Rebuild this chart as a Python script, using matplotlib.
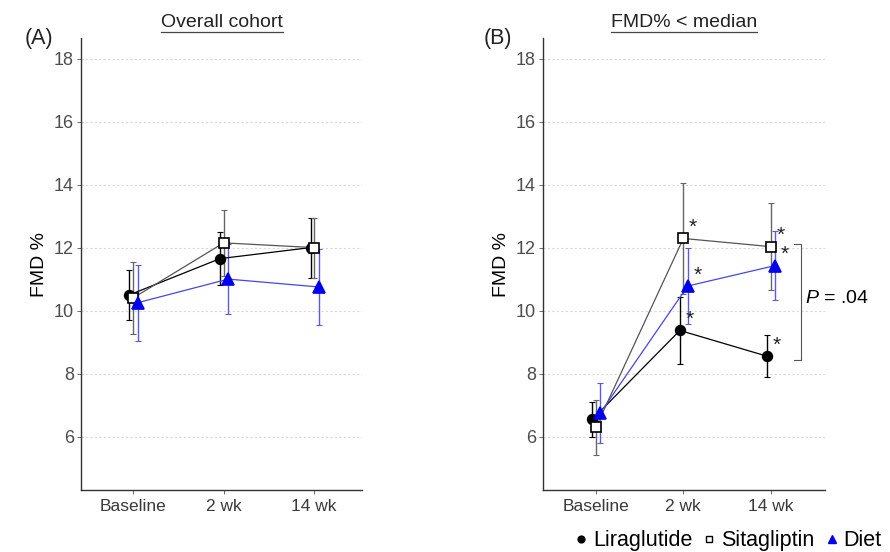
import matplotlib
matplotlib.use("Agg")
import matplotlib.pyplot as plt
from matplotlib.lines import Line2D
import numpy as np

plt.rcParams['font.family'] = ['Liberation Sans', 'DejaVu Sans']
plt.rcParams['mathtext.fontset'] = 'custom'
plt.rcParams['mathtext.it'] = 'Liberation Sans:italic'
plt.rcParams['mathtext.rm'] = 'Liberation Sans'

timepoints = ["Baseline", "2 wk", "14 wk"]
groups = ["Liraglutide", "Sitagliptin", "Diet"]

# Panel A: overall cohort
a_lira_mean = [10.5, 11.65, 12.0]
a_lira_err = [0.8, 0.85, 0.95]
a_sita_mean = [10.4, 12.15, 12.0]
a_sita_err = [1.15, 1.05, 0.95]
a_diet_mean = [10.25, 11.0, 10.75]
a_diet_err = [1.2, 1.1, 1.2]

# Panel B: FMD% < median
b_lira_mean = [6.55, 9.37, 8.55]
b_lira_err = [0.55, 1.05, 0.66]
b_sita_mean = [6.3, 12.29, 12.03]
b_sita_err = [0.87, 1.77, 1.37]
b_diet_mean = [6.75, 10.78, 11.43]
b_diet_err = [0.95, 1.22, 1.1]

p_text = "= .04"

styles = {
    "Liraglutide": dict(marker='o', mfc='black', mec='black', ms=7, line='black', err='black', dx=-0.04),
    "Sitagliptin": dict(marker='s', mfc='white', mec='black', ms=6.5, line='#555555', err='#666666', dx=0.0),
    "Diet": dict(marker='^', mfc='#0000ee', mec='#0000ee', ms=8.5, line='#4646e6', err='#5a5ae6', dx=0.05),
}

fig = plt.figure(figsize=(8.9, 5.52), dpi=100)
axA = fig.add_axes([0.091, 0.112, 0.316, 0.819])
axB = fig.add_axes([0.610, 0.112, 0.317, 0.819])

x = np.arange(1, len(timepoints) + 1)

def draw(ax, data, xlim):
    for g, (m, e) in data.items():
        s = styles[g]
        xx = x + s['dx']
        ax.errorbar(xx, m, yerr=e, fmt='none', ecolor=s['err'], elinewidth=1.0, capsize=2, capthick=0.8, zorder=2)
        ax.plot(xx, m, color=s['line'], lw=0.9, zorder=3)
        ax.plot(xx, m, linestyle='none', marker=s['marker'], mfc=s['mfc'], mec=s['mec'], ms=s['ms'], mew=1.2, zorder=4)
    ax.set_xlim(*xlim)
    ax.set_ylim(4.3, 18.65)
    ax.set_yticks([6, 8, 10, 12, 14, 16, 18])
    ax.set_xticks(x)
    ax.set_xticklabels(timepoints)
    ax.yaxis.grid(True, linestyle=(0, (2, 2)), color='#d9d9d9', lw=0.8)
    ax.set_axisbelow(True)
    for sp in ['top', 'right']:
        ax.spines[sp].set_visible(False)
    for sp in ['left', 'bottom']:
        ax.spines[sp].set_color('#333333')
        ax.spines[sp].set_linewidth(1.0)
    ax.tick_params(axis='y', labelsize=13, colors='#555555', labelcolor='#4d4d4d', length=3, width=0.6, pad=2)
    ax.tick_params(axis='x', labelsize=12.5, colors='#555555', labelcolor='#3a3a3a', length=3, width=0.6, pad=3)
    ax.set_ylabel("FMD %", fontsize=14, labelpad=4)

draw(axA, {"Liraglutide": (a_lira_mean, a_lira_err),
           "Sitagliptin": (a_sita_mean, a_sita_err),
           "Diet": (a_diet_mean, a_diet_err)}, (0.425, 3.53))
draw(axB, {"Liraglutide": (b_lira_mean, b_lira_err),
           "Sitagliptin": (b_sita_mean, b_sita_err),
           "Diet": (b_diet_mean, b_diet_err)}, (0.394, 3.62))

# asterisks in panel B at 2 wk and 14 wk
for g, m in [("Liraglutide", b_lira_mean), ("Sitagliptin", b_sita_mean), ("Diet", b_diet_mean)]:
    s = styles[g]
    for i in [1, 2]:
        axB.annotate("*", (x[i] + s['dx'], m[i]), xytext=(4, 1), textcoords='offset points',
                     ha='left', va='bottom', fontsize=15, color='#222222')

# bracket and P value
bx0, bx1 = 3.27, 3.35
ytop, ybot = 12.1, 8.44
axB.plot([bx0, bx1, bx1, bx0], [ytop, ytop, ybot, ybot], color='#555555', lw=0.8, clip_on=False)
axB.text(bx1 + 0.04, (ytop + ybot) / 2 + 0.1, r"$\it{P}$ " + p_text, fontsize=14, ha='left', va='center')

# titles with underline
fig.canvas.draw()
renderer = fig.canvas.get_renderer()
for ax, title in [(axA, "Overall cohort"), (axB, "FMD% < median")]:
    pos = ax.get_position()
    cx = (pos.x0 + pos.x1) / 2
    t = fig.text(cx, 0.960, title, fontsize=14, ha='center', va='center', color='#222222')
    bb = t.get_window_extent(renderer=renderer).transformed(fig.transFigure.inverted())
    fig.add_artist(Line2D([bb.x0, bb.x1], [bb.y0 - 0.002, bb.y0 - 0.002], color='#444444', lw=0.9,
                          transform=fig.transFigure))

fig.text(0.028, 0.930, "(A)", fontsize=15.5, ha='left', va='center', color='#222222')
fig.text(0.543, 0.930, "(B)", fontsize=15.5, ha='left', va='center', color='#222222')

# legend
handles = []
for g in groups:
    s = styles[g]
    handles.append(Line2D([], [], linestyle='none', marker=s['marker'], mfc=s['mfc'], mec=s['mec'],
                          ms=s['ms'] * 0.7, mew=1.0, label=g))
fig.legend(handles=handles, loc='lower right', bbox_to_anchor=(1.01, -0.03), ncol=3, frameon=False,
           fontsize=15.5, handletextpad=0.05, columnspacing=0.3, handlelength=1.0, borderpad=0.3)

fig.savefig("out.png", dpi=100)
